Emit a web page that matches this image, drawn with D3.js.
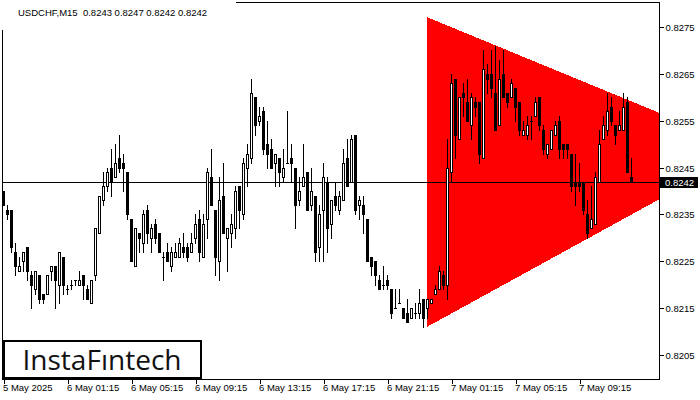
<!DOCTYPE html>
<html><head><meta charset="utf-8">
<script src="https://cdn.jsdelivr.net/npm/d3@7/dist/d3.min.js"></script>
<style>html,body{margin:0;padding:0;background:#fff;overflow:hidden}svg{display:block}</style>
</head><body><svg id="c" width="700" height="400"></svg>
<script>
// ---- data (USDCHF, M15) ----
const symbolTitle = "USDCHF,M15  0.8243 0.8247 0.8242 0.8242";
const openP = [0.8240,0.8236,0.8236,0.8227,0.8223,0.8225,0.8228,0.8222,0.8219,0.8222,0.8218,0.8218,0.8223,0.8224,0.8220,0.8226,0.8219,0.8220,0.8221,0.8220,
0.8222,0.8219,0.8216,0.8222,0.8231,0.8238,0.8241,0.8245,0.8243,0.8247,0.8246,0.8244,0.8234,0.8224,0.8231,0.8229,0.8236,0.8230,0.8233,0.8231,
0.8226,0.8227,0.8224,0.8226,0.8226,0.8228,0.8228,0.8227,0.8230,0.8234,0.8226,0.8234,0.8243,0.8236,0.8225,0.8239,0.8230,0.8231,0.8232,0.8241,
0.8235,0.8245,0.8247,0.8260,0.8255,0.8257,0.8250,0.8249,0.8246,0.8247,0.8243,0.8246,0.8247,0.8245,0.8238,0.8241,0.8244,0.8237,0.8239,0.8228,
0.8236,0.8242,0.8233,0.8239,0.8236,0.8238,0.8247,0.8242,0.8252,0.8237,0.8237,0.8234,0.8226,0.8225,0.8221,0.8220,0.8221,0.8219,0.8215,0.8216,
0.8215,0.8214,0.8213,0.8214,0.8214,0.8217,0.8215,0.8216,0.8218,0.8219,0.8222,0.8220,0.8244,0.8264,0.8251,0.8261,0.8259,0.8254,0.8259,0.8259,
0.8247,0.8265,0.8265,0.8261,0.8254,0.8265,0.8261,0.8260,0.8262,0.8259,0.8252,0.8252,0.8255,0.8256,0.8260,0.8253,0.8248,0.8249,0.8252,0.8255,
0.8250,0.8250,0.8248,0.8242,0.8242,0.8242,0.8235,0.8232,0.8233,0.8242,0.8251,0.8253,0.8258,0.8254,0.8253,0.8253,0.8259,0.8243];
const highP = [0.8240,0.8237,0.8236,0.8229,0.8226,0.8227,0.8228,0.8223,0.8223,0.8222,0.8218,0.8222,0.8224,0.8224,0.8227,0.8226,0.8220,0.8221,0.8221,0.8223,
0.8222,0.8220,0.8221,0.8232,0.8239,0.8244,0.8245,0.8249,0.8250,0.8252,0.8248,0.8244,0.8234,0.8232,0.8231,0.8236,0.8237,0.8233,0.8234,0.8231,
0.8227,0.8229,0.8228,0.8229,0.8230,0.8231,0.8229,0.8231,0.8235,0.8236,0.8235,0.8245,0.8249,0.8236,0.8243,0.8246,0.8232,0.8235,0.8241,0.8241,
0.8247,0.8250,0.8264,0.8260,0.8258,0.8258,0.8255,0.8251,0.8248,0.8247,0.8249,0.8257,0.8250,0.8245,0.8243,0.8250,0.8244,0.8245,0.8239,0.8237,
0.8246,0.8243,0.8238,0.8242,0.8240,0.8249,0.8251,0.8252,0.8252,0.8239,0.8239,0.8234,0.8226,0.8225,0.8222,0.8224,0.8222,0.8219,0.8219,0.8219,
0.8215,0.8217,0.8215,0.8216,0.8219,0.8217,0.8217,0.8217,0.8220,0.8224,0.8223,0.8251,0.8265,0.8264,0.8260,0.8263,0.8264,0.8261,0.8260,0.8259,
0.8270,0.8267,0.8270,0.8271,0.8268,0.8270,0.8261,0.8264,0.8262,0.8259,0.8255,0.8256,0.8256,0.8260,0.8260,0.8254,0.8250,0.8253,0.8255,0.8256,
0.8250,0.8250,0.8248,0.8248,0.8246,0.8242,0.8238,0.8241,0.8244,0.8253,0.8256,0.8261,0.8260,0.8254,0.8257,0.8261,0.8260,0.8247];
const lowP = [0.8237,0.8234,0.8227,0.8222,0.8223,0.8223,0.8221,0.8215,0.8218,0.8216,0.8216,0.8218,0.8221,0.8215,0.8216,0.8218,0.8218,0.8219,0.8220,0.8220,
0.8217,0.8217,0.8216,0.8221,0.8231,0.8237,0.8240,0.8239,0.8243,0.8244,0.8240,0.8234,0.8225,0.8224,0.8227,0.8227,0.8229,0.8227,0.8229,0.8227,
0.8221,0.8225,0.8223,0.8226,0.8226,0.8226,0.8225,0.8227,0.8229,0.8225,0.8226,0.8230,0.8237,0.8222,0.8221,0.8231,0.8223,0.8228,0.8230,0.8232,
0.8234,0.8241,0.8246,0.8252,0.8254,0.8248,0.8245,0.8245,0.8241,0.8241,0.8242,0.8246,0.8242,0.8232,0.8237,0.8241,0.8236,0.8236,0.8225,0.8225,
0.8225,0.8227,0.8230,0.8236,0.8235,0.8238,0.8241,0.8242,0.8235,0.8234,0.8231,0.8225,0.8222,0.8220,0.8219,0.8219,0.8219,0.8213,0.8215,0.8216,
0.8213,0.8212,0.8213,0.8213,0.8213,0.8211,0.8213,0.8216,0.8218,0.8219,0.8219,0.8217,0.8242,0.8247,0.8251,0.8256,0.8255,0.8251,0.8256,0.8246,
0.8247,0.8261,0.8260,0.8253,0.8254,0.8260,0.8258,0.8260,0.8255,0.8252,0.8252,0.8251,0.8251,0.8256,0.8253,0.8248,0.8247,0.8249,0.8252,0.8247,
0.8247,0.8247,0.8240,0.8237,0.8240,0.8235,0.8230,0.8232,0.8233,0.8242,0.8251,0.8252,0.8254,0.8250,0.8253,0.8253,0.8244,0.8242];
const closeP = [0.8237,0.8235,0.8228,0.8224,0.8224,0.8227,0.8223,0.8220,0.8223,0.8217,0.8217,0.8222,0.8224,0.8221,0.8227,0.8220,0.8219,0.8220,0.8221,0.8221,
0.8220,0.8217,0.8221,0.8232,0.8239,0.8241,0.8244,0.8242,0.8246,0.8245,0.8245,0.8235,0.8225,0.8232,0.8230,0.8235,0.8231,0.8232,0.8230,0.8227,
0.8226,0.8225,0.8227,0.8227,0.8229,0.8227,0.8226,0.8229,0.8233,0.8227,0.8233,0.8244,0.8237,0.8226,0.8238,0.8231,0.8232,0.8233,0.8240,0.8236,
0.8246,0.8248,0.8261,0.8254,0.8256,0.8249,0.8248,0.8245,0.8248,0.8244,0.8245,0.8246,0.8246,0.8237,0.8240,0.8243,0.8236,0.8240,0.8227,0.8235,
0.8243,0.8232,0.8238,0.8237,0.8239,0.8246,0.8241,0.8251,0.8236,0.8238,0.8235,0.8225,0.8224,0.8222,0.8219,0.8220,0.8220,0.8214,0.8215,0.8216,
0.8213,0.8212,0.8215,0.8214,0.8216,0.8213,0.8217,0.8217,0.8219,0.8223,0.8220,0.8245,0.8263,0.8252,0.8260,0.8260,0.8255,0.8260,0.8258,0.8248,
0.8266,0.8264,0.8262,0.8253,0.8264,0.8260,0.8259,0.8263,0.8258,0.8253,0.8253,0.8254,0.8255,0.8259,0.8254,0.8249,0.8250,0.8253,0.8254,0.8249,
0.8249,0.8249,0.8241,0.8241,0.8241,0.8236,0.8231,0.8234,0.8243,0.8250,0.8254,0.8257,0.8255,0.8252,0.8254,0.8258,0.8244,0.8242];
const priceTicks = [0.8205,0.8215,0.8225,0.8235,0.8245,0.8255,0.8265,0.8275];
const timeTickBars = [1,17,33,49,65,81,97,113,129,145];
const timeLabels = ["5 May 2025","6 May 01:15","6 May 05:15","6 May 09:15","6 May 13:15","6 May 17:15","6 May 21:15","7 May 01:15","7 May 05:15","7 May 09:15"];
const currentPrice = 0.8242;
// triangle pattern corners: bar index and price
const triBar = [107, 165, 165, 107];
const triPrice = [0.82771, 0.82567, 0.82382, 0.82110];
const logoText = "InstaF\u0131ntech";

// ---- layout ----
const L = 2, R = 659, T = 2, B = 379;
const svg = d3.select("#c");
const font = "'Liberation Sans', Arial, sans-serif";
const x = d3.scaleLinear().domain([1, 158]).range([3, 631]);
const y = d3.scaleLinear().domain([0.8205, 0.8275]).range([355, 27]);
const py = v => Math.round(y(v));

svg.append("rect").attr("width",700).attr("height",400).attr("fill","#fff");
svg.append("clipPath").attr("id","plot").append("rect").attr("x",L+1).attr("y",T+1).attr("width",R-L-1).attr("height",B-T-1);

const plot = svg.append("g").attr("clip-path","url(#plot)").attr("shape-rendering","crispEdges");

// red triangle
plot.append("polygon")
  .attr("points", triBar.map((b,i)=>[x(b), y(triPrice[i])].join(",")).join(" "))
  .attr("fill","#ff0000");

// current price line
plot.append("rect").attr("x",L).attr("y",py(currentPrice)).attr("width",R-L).attr("height",1).attr("fill","#000");

// candles
const candles = plot.append("g");
openP.forEach((o,i)=>{
  const k = i+1, cx = Math.round(x(k));
  const h = highP[i], l = lowP[i], c = closeP[i];
  const yh = py(h), yl = py(l), yo = py(o), yc = py(c);
  candles.append("rect").attr("x",cx).attr("y",yh).attr("width",1).attr("height",yl-yh+1).attr("fill","#000");
  const top = Math.min(yo,yc), bot = Math.max(yo,yc);
  candles.append("rect").attr("x",cx-1).attr("y",top).attr("width",3).attr("height",bot-top+1).attr("fill","#000");
  if (c > o && bot-top-1 > 0) {
    candles.append("rect").attr("x",cx).attr("y",top+1).attr("width",1).attr("height",bot-top-1).attr("fill","#fff");
  }
});

// frame
const frame = svg.append("g").attr("shape-rendering","crispEdges").attr("fill","#000");
frame.append("rect").attr("x",L).attr("y",T).attr("width",R-L+1).attr("height",1);
frame.append("rect").attr("x",L).attr("y",B).attr("width",R-L+1).attr("height",1);
frame.append("rect").attr("x",L).attr("y",T).attr("width",1).attr("height",B-T+1);
frame.append("rect").attr("x",R).attr("y",T).attr("width",1).attr("height",B-T+1);

// right price axis
const yAxis = d3.axisRight(y).tickValues(priceTicks).tickSize(4).tickPadding(2).tickFormat(d3.format(".4f"));
const ya = svg.append("g").attr("transform",`translate(${R+0.5},0)`).call(yAxis);
ya.select(".domain").remove();
ya.selectAll(".tick").attr("transform", d => `translate(0,${py(d)+0.5})`);
ya.selectAll(".tick line").attr("stroke","#000").attr("shape-rendering","crispEdges");
ya.selectAll(".tick text").attr("fill","#000").style("font-family",font).style("font-size","9.5px").attr("x",6);

// current price tag
const cp = py(currentPrice);
svg.append("rect").attr("x",R+1).attr("y",cp-5).attr("width",38).attr("height",11).attr("fill","#000");
svg.append("text").attr("x",R+6).attr("y",cp+0.5).attr("dy","0.35em").attr("fill","#fff")
  .style("font-family",font).style("font-size","9.5px").text(d3.format(".4f")(currentPrice));

// bottom time axis
const xAxis = d3.axisBottom(x).tickValues(timeTickBars).tickSize(4).tickFormat((d,i)=>timeLabels[i]);
const xa = svg.append("g").attr("transform",`translate(0.5,${B+0.5})`).call(xAxis);
xa.select(".domain").remove();
xa.selectAll(".tick line").attr("stroke","#000").attr("shape-rendering","crispEdges");
xa.selectAll(".tick text").attr("fill","#000").attr("text-anchor","start").attr("x",-1).attr("y",5)
  .style("font-family",font).style("font-size","9.5px");

// title with white background
svg.append("rect").attr("x",0).attr("y",0).attr("width",236).attr("height",30).attr("fill","#fff");
svg.append("text").attr("x",18).attr("y",16).attr("fill","#000").style("font-family",font).style("font-size","9.5px")
  .attr("xml:space","preserve").text(symbolTitle);

// logo
svg.append("rect").attr("x",4).attr("y",341).attr("width",197).attr("height",37).attr("fill","#fff").attr("stroke","#000").attr("stroke-width",2);
svg.append("text").attr("x",22.5).attr("y",370).attr("fill","#111").style("font-family","'Open Sans', sans-serif")
  .style("font-size","27px").style("font-weight",500).attr("textLength",159).attr("lengthAdjust","spacingAndGlyphs").text(logoText);
</script></body></html>
